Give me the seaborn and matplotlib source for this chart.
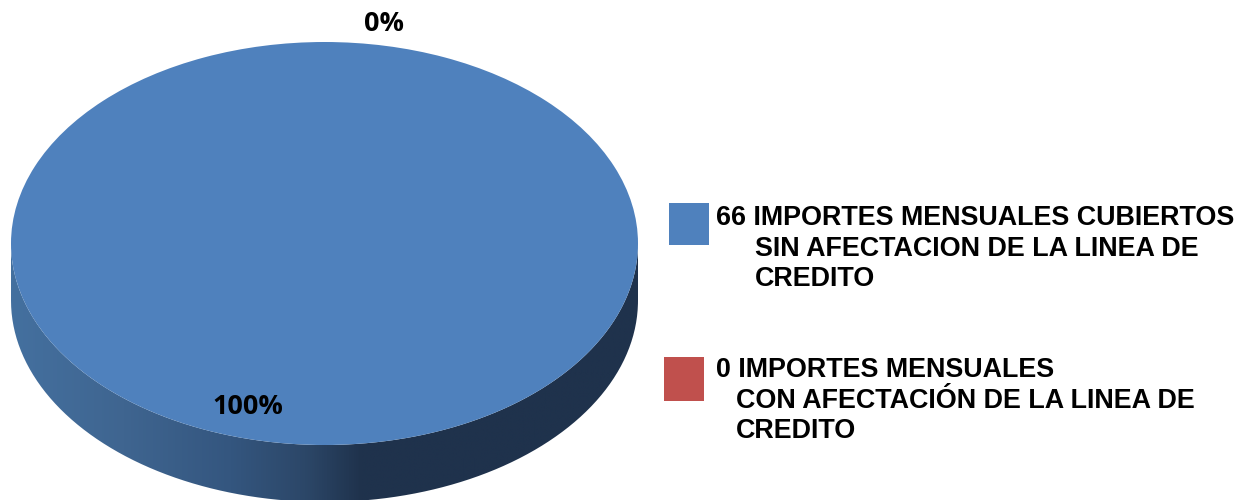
import numpy as np
import matplotlib
matplotlib.use('Agg')
import matplotlib.pyplot as plt
from matplotlib.colors import LinearSegmentedColormap
from matplotlib.patches import PathPatch, Rectangle
from matplotlib.path import Path
import seaborn as sns

# Data
categories = ['66 IMPORTES MENSUALES CUBIERTOS', '0 IMPORTES MENSUALES']
legend_second_lines = [['SIN AFECTACION DE LA LINEA DE', 'CREDITO'],
                       ['CON AFECTACIÓN DE LA LINEA DE', 'CREDITO']]
values = [66, 0]

colors = ['#4F81BD', '#C0504D']
sns.set_theme(style='white', palette=colors)
plt.rcParams['font.family'] = ['Liberation Sans', 'DejaVu Sans']

W, H = 1249, 500
fig = plt.figure(figsize=(W / 100, H / 100), dpi=100, facecolor='white')

# Ellipse of the pie top, in pixels
left, right, top, bottom = 11, 638, 42, 445
depth = 57 / ((bottom - top) / 2)  # rim height in axes units

# axes runs down past the ellipse so the rim fits inside it
ax = fig.add_axes([left / W, 1 - (bottom + 57) / H, (right - left) / W, (bottom + 57 - top) / H])
wedges, _ = ax.pie(values, colors=sns.color_palette(), startangle=90, counterclock=False, radius=1,
                   wedgeprops={'linewidth': 0, 'zorder': 3})
ax.axis('off')

# Rim of the fake 3D pie
shade = LinearSegmentedColormap.from_list('rim', [(0, '#44709F'), (0.18, '#3F6590'), (0.35, '#34567F'),
                                                  (0.47, '#2C4768'), (0.56, '#1F324C'), (1, '#1F324C')])
t = np.linspace(np.pi, 2 * np.pi, 200)
xs = np.r_[np.cos(t), np.cos(t[::-1])]
ys = np.r_[np.sin(t) - depth, np.sin(t[::-1])]
rim = PathPatch(Path(np.c_[xs, ys]), transform=ax.transData, fc='none', ec='none')
ax.add_patch(rim)
im = ax.imshow(np.linspace(0, 1, 512)[None, :], cmap=shade, extent=(-1, 1, -1 - depth, 0),
               aspect='auto', zorder=1)
im.set_clip_path(rim)
ax.set_aspect('auto')
ax.set_xlim(-1, 1)
ax.set_ylim(-1 - depth, 1)

# Overlay in pixel coordinates for labels and legend
ov = fig.add_axes([0, 0, 1, 1], facecolor='none')
ov.set_xlim(0, W)
ov.set_ylim(H, 0)
ov.axis('off')

total = sum(values)
pct_font = dict(family=['Open Sans', 'DejaVu Sans'], fontsize=19.5, fontweight='bold', color='black',
                va='center', ha='center')
ov.text(384.5, 24, f'{values[1] / total:.0%}', **pct_font)
ov.text(248, 407, f'{values[0] / total:.0%}', **pct_font)

ov.add_patch(Rectangle((669, 203), 40, 42, fc=colors[0], ec='none'))
ov.add_patch(Rectangle((664, 357), 40, 44, fc=colors[1], ec='none'))

txt = dict(fontsize=19.4, fontweight='bold', color='black', va='center', ha='left')
ov.text(716, 218, categories[0], **txt)
ov.text(755, 249, legend_second_lines[0][0], **txt)
ov.text(755, 279, legend_second_lines[0][1], **txt)
ov.text(716, 370, categories[1], **txt)
ov.text(736, 401, legend_second_lines[1][0], **txt)
ov.text(736, 431, legend_second_lines[1][1], **txt)

fig.savefig('out.png', dpi=100)
